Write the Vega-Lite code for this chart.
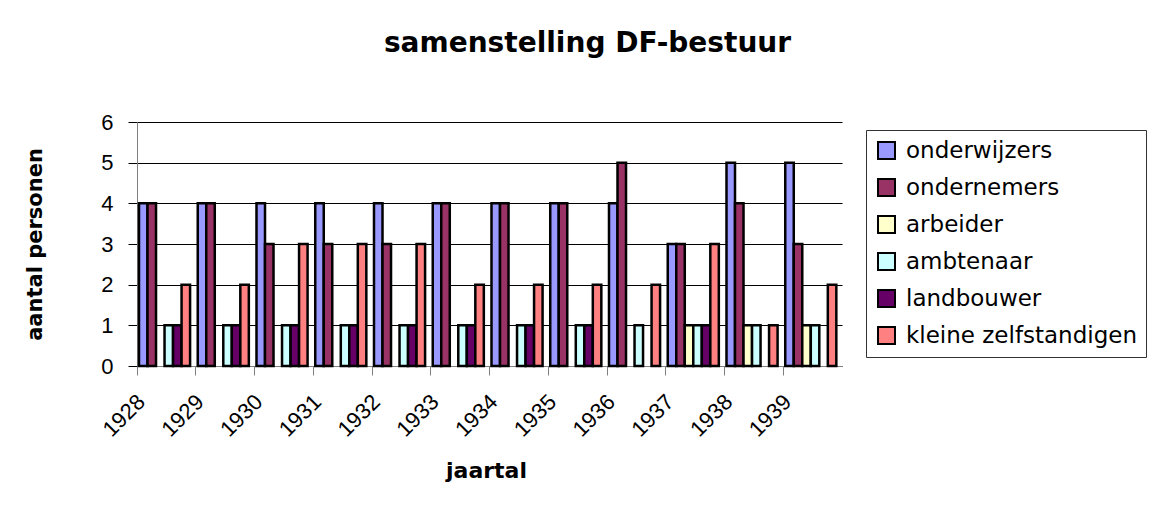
{
  "$schema": "https://vega.github.io/schema/vega-lite/v6.json",
  "width": 705,
  "height": 244,
  "autosize": {"type": "none"},
  "padding": {"left": 137, "top": 122, "right": 315, "bottom": 142},
  "background": "white",
  "title": {"text": "samenstelling DF-bestuur", "font": "DejaVu Sans", "fontWeight": "bold", "fontSize": 28, "color": "#000", "anchor": "middle", "frame": "group", "dx": 98, "offset": 31, "baseline": "alphabetic"},
  "data": {"values": [
    {"jaar": "1928", "beroep": "onderwijzers", "aantal": 4}, {"jaar": "1928", "beroep": "ondernemers", "aantal": 4}, {"jaar": "1928", "beroep": "arbeider", "aantal": 0}, {"jaar": "1928", "beroep": "ambtenaar", "aantal": 1}, {"jaar": "1928", "beroep": "landbouwer", "aantal": 1}, {"jaar": "1928", "beroep": "kleine zelfstandigen", "aantal": 2},
    {"jaar": "1929", "beroep": "onderwijzers", "aantal": 4}, {"jaar": "1929", "beroep": "ondernemers", "aantal": 4}, {"jaar": "1929", "beroep": "arbeider", "aantal": 0}, {"jaar": "1929", "beroep": "ambtenaar", "aantal": 1}, {"jaar": "1929", "beroep": "landbouwer", "aantal": 1}, {"jaar": "1929", "beroep": "kleine zelfstandigen", "aantal": 2},
    {"jaar": "1930", "beroep": "onderwijzers", "aantal": 4}, {"jaar": "1930", "beroep": "ondernemers", "aantal": 3}, {"jaar": "1930", "beroep": "arbeider", "aantal": 0}, {"jaar": "1930", "beroep": "ambtenaar", "aantal": 1}, {"jaar": "1930", "beroep": "landbouwer", "aantal": 1}, {"jaar": "1930", "beroep": "kleine zelfstandigen", "aantal": 3},
    {"jaar": "1931", "beroep": "onderwijzers", "aantal": 4}, {"jaar": "1931", "beroep": "ondernemers", "aantal": 3}, {"jaar": "1931", "beroep": "arbeider", "aantal": 0}, {"jaar": "1931", "beroep": "ambtenaar", "aantal": 1}, {"jaar": "1931", "beroep": "landbouwer", "aantal": 1}, {"jaar": "1931", "beroep": "kleine zelfstandigen", "aantal": 3},
    {"jaar": "1932", "beroep": "onderwijzers", "aantal": 4}, {"jaar": "1932", "beroep": "ondernemers", "aantal": 3}, {"jaar": "1932", "beroep": "arbeider", "aantal": 0}, {"jaar": "1932", "beroep": "ambtenaar", "aantal": 1}, {"jaar": "1932", "beroep": "landbouwer", "aantal": 1}, {"jaar": "1932", "beroep": "kleine zelfstandigen", "aantal": 3},
    {"jaar": "1933", "beroep": "onderwijzers", "aantal": 4}, {"jaar": "1933", "beroep": "ondernemers", "aantal": 4}, {"jaar": "1933", "beroep": "arbeider", "aantal": 0}, {"jaar": "1933", "beroep": "ambtenaar", "aantal": 1}, {"jaar": "1933", "beroep": "landbouwer", "aantal": 1}, {"jaar": "1933", "beroep": "kleine zelfstandigen", "aantal": 2},
    {"jaar": "1934", "beroep": "onderwijzers", "aantal": 4}, {"jaar": "1934", "beroep": "ondernemers", "aantal": 4}, {"jaar": "1934", "beroep": "arbeider", "aantal": 0}, {"jaar": "1934", "beroep": "ambtenaar", "aantal": 1}, {"jaar": "1934", "beroep": "landbouwer", "aantal": 1}, {"jaar": "1934", "beroep": "kleine zelfstandigen", "aantal": 2},
    {"jaar": "1935", "beroep": "onderwijzers", "aantal": 4}, {"jaar": "1935", "beroep": "ondernemers", "aantal": 4}, {"jaar": "1935", "beroep": "arbeider", "aantal": 0}, {"jaar": "1935", "beroep": "ambtenaar", "aantal": 1}, {"jaar": "1935", "beroep": "landbouwer", "aantal": 1}, {"jaar": "1935", "beroep": "kleine zelfstandigen", "aantal": 2},
    {"jaar": "1936", "beroep": "onderwijzers", "aantal": 4}, {"jaar": "1936", "beroep": "ondernemers", "aantal": 5}, {"jaar": "1936", "beroep": "arbeider", "aantal": 0}, {"jaar": "1936", "beroep": "ambtenaar", "aantal": 1}, {"jaar": "1936", "beroep": "landbouwer", "aantal": 0}, {"jaar": "1936", "beroep": "kleine zelfstandigen", "aantal": 2},
    {"jaar": "1937", "beroep": "onderwijzers", "aantal": 3}, {"jaar": "1937", "beroep": "ondernemers", "aantal": 3}, {"jaar": "1937", "beroep": "arbeider", "aantal": 1}, {"jaar": "1937", "beroep": "ambtenaar", "aantal": 1}, {"jaar": "1937", "beroep": "landbouwer", "aantal": 1}, {"jaar": "1937", "beroep": "kleine zelfstandigen", "aantal": 3},
    {"jaar": "1938", "beroep": "onderwijzers", "aantal": 5}, {"jaar": "1938", "beroep": "ondernemers", "aantal": 4}, {"jaar": "1938", "beroep": "arbeider", "aantal": 1}, {"jaar": "1938", "beroep": "ambtenaar", "aantal": 1}, {"jaar": "1938", "beroep": "landbouwer", "aantal": 0}, {"jaar": "1938", "beroep": "kleine zelfstandigen", "aantal": 1},
    {"jaar": "1939", "beroep": "onderwijzers", "aantal": 5}, {"jaar": "1939", "beroep": "ondernemers", "aantal": 3}, {"jaar": "1939", "beroep": "arbeider", "aantal": 1}, {"jaar": "1939", "beroep": "ambtenaar", "aantal": 1}, {"jaar": "1939", "beroep": "landbouwer", "aantal": 0}, {"jaar": "1939", "beroep": "kleine zelfstandigen", "aantal": 2}
  ]},
  "transform": [{"filter": "datum.aantal > 0"}],
  "mark": {"type": "bar", "stroke": "#000", "strokeWidth": 2.5},
  "encoding": {
    "x": {
      "field": "jaar", "type": "nominal",
      "scale": {"paddingInner": 0, "paddingOuter": 0},
      "axis": {
        "bandPosition": 0, "grid": false,
        "tickSize": 9, "tickColor": "#808080", "domainColor": "#808080",
        "labelAngle": -45, "labelAlign": "right", "labelBaseline": "middle",
        "labelOffset": -25, "labelPadding": 23,
        "labelFont": "Liberation Sans", "labelFontSize": 22, "labelColor": "#000",
        "title": "jaartal", "titleFont": "DejaVu Sans", "titleFontWeight": "bold", "titleFontSize": 22, "titleColor": "#000",
        "titleX": 349, "titleY": 111, "titleBaseline": "alphabetic", "titleAlign": "center"
      }
    },
    "xOffset": {
      "field": "beroep", "type": "nominal",
      "scale": {"domain": ["onderwijzers", "ondernemers", "arbeider", "ambtenaar", "landbouwer", "kleine zelfstandigen"], "paddingInner": 0, "paddingOuter": 0.45, "align": 0.26}
    },
    "y": {
      "field": "aantal", "type": "quantitative",
      "scale": {"domain": [0, 6], "nice": false},
      "axis": {
        "values": [0, 1, 2, 3, 4, 5, 6], "grid": true, "gridColor": "#000", "gridWidth": 1,
        "domainColor": "#808080", "tickColor": "#000", "tickSize": 9,
        "labelFont": "Liberation Sans", "labelFontSize": 22, "labelPadding": 15, "labelColor": "#000",
        "title": "aantal personen", "titleFont": "DejaVu Sans", "titleFontWeight": "bold", "titleFontSize": 21, "titleColor": "#000",
        "titleX": -102, "titleY": 122, "titleAngle": -90, "titleBaseline": "middle", "titleAlign": "center"
      }
    },
    "color": {
      "field": "beroep", "type": "nominal",
      "scale": {"domain": ["onderwijzers", "ondernemers", "arbeider", "ambtenaar", "landbouwer", "kleine zelfstandigen"], "range": ["#9999FF", "#993366", "#FFFFCC", "#CCFFFF", "#660066", "#FF8080"]},
      "legend": {
        "orient": "none", "legendX": 729, "legendY": 8, "direction": "vertical", "title": null,
        "symbolType": "square", "symbolSize": 289, "symbolStrokeColor": "#000", "symbolStrokeWidth": 2, "symbolOpacity": 1,
        "labelFont": "DejaVu Sans", "labelFontSize": 23, "labelColor": "#000", "labelOffset": 8, "labelLimit": 400,
        "rowPadding": 12, "padding": 9, "strokeColor": "#333", "fillColor": "#fff"
      }
    }
  },
  "config": {"view": {"stroke": null}}
}
